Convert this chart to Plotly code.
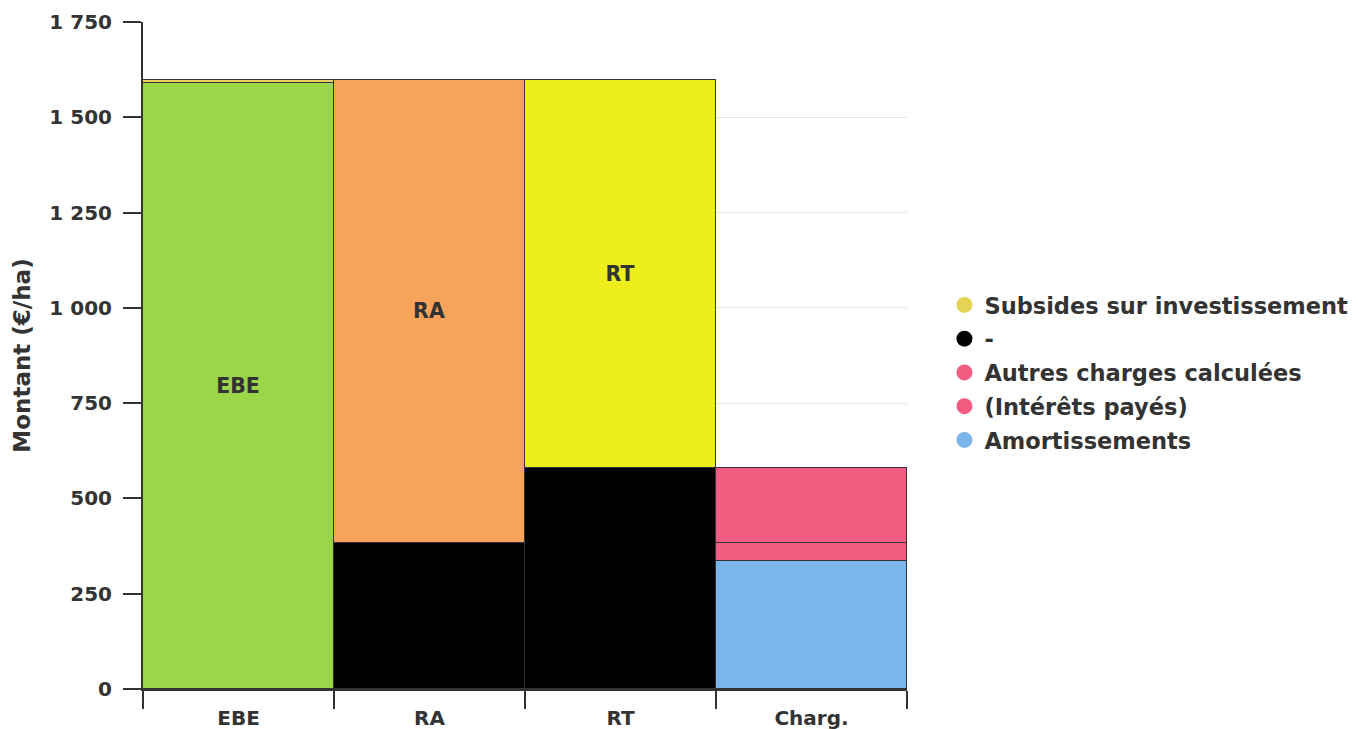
import plotly.graph_objects as go

categories = ["EBE", "RA", "RT", "Charg."]

ebe = [1590, None, None, None]
subsides = [8, None, None, None]
black_part = [None, 382, 581, None]
amortissements = [None, None, None, 337]
interets = [None, None, None, 45]
autres = [None, None, None, 199]
ra = [None, 1216, None, None]
rt = [None, None, 1017, None]

C_GREEN = "#9ad648"
C_ORANGE = "#f7a35c"
C_YELLOW = "#eeee1a"
C_SUB = "#e4d354"
C_BLACK = "#000000"
C_PINK = "#f15c80"
C_BLUE = "#7cb5ec"

FONT = "DejaVu Sans"
TXT = "#333333"

fig = go.Figure()
line = dict(color="#333333", width=1)

def bar(name, vals, color, label=None):
    if label:
        kw = dict(text=[label if v is not None else None for v in vals],
                  textposition="inside", insidetextanchor="middle",
                  textfont=dict(family=FONT, size=20.5, color=TXT, weight="bold"),
                  texttemplate="%{text}")
    else:
        kw = dict(textposition="none")
    fig.add_trace(go.Bar(x=categories, y=vals, name=name, marker=dict(color=color, line=line),
                         showlegend=False, hoverinfo="y+name", constraintext="none", **kw))

bar("EBE", ebe, C_GREEN, "EBE")
bar("-", black_part, C_BLACK)
bar("Amortissements", amortissements, C_BLUE)
bar("(Intérêts payés)", interets, C_PINK)
bar("Autres charges calculées", autres, C_PINK)
bar("RA", ra, C_ORANGE, "RA")
bar("RT", rt, C_YELLOW, "RT")
bar("Subsides sur investissement", subsides, C_SUB)

legend_items = [("Subsides sur investissement", C_SUB), ("-", C_BLACK),
                ("Autres charges calculées", C_PINK), ("(Intérêts payés)", C_PINK),
                ("Amortissements", C_BLUE)]
for i, (n, c) in enumerate(legend_items):
    fig.add_trace(go.Scatter(x=[None], y=[None], mode="markers", name=n,
                             legendgroup=f"g{i}",
                             marker=dict(symbol="circle", size=20, color=c),
                             showlegend=True, legendrank=i, hoverinfo="skip"))

fig.update_layout(
    barmode="stack", bargap=0,
    width=1366, height=729,
    margin=dict(l=135, r=467, t=14, b=48, autoexpand=False),
    paper_bgcolor="white", plot_bgcolor="white",
    separators=", ",
    font=dict(family=FONT, size=20, color=TXT, weight="bold"),
    legend=dict(x=1.049, xanchor="left", y=0.474, yanchor="middle",
                font=dict(family=FONT, size=22.5, color=TXT, weight="bold"),
                traceorder="grouped", tracegroupgap=1.5),
    xaxis=dict(type="category", tickson="boundaries", ticks="outside", ticklen=18,
               tickwidth=2, tickcolor="#333333", showline=True, linecolor="#333333",
               linewidth=2, showgrid=False, ticklabelstandoff=10, automargin=False,
               tickfont=dict(family=FONT, size=20, color=TXT, weight="bold")),
    yaxis=dict(range=[0, 1750], tick0=0, dtick=250, tickformat=",d", ticks="outside",
               ticklen=18, tickwidth=2, tickcolor="#333333", showline=True,
               linecolor="#333333", linewidth=2, gridcolor="#e6e6e6", gridwidth=1,
               zeroline=False, ticklabelstandoff=7, automargin=False,
               tickfont=dict(family=FONT, size=20, color=TXT, weight="bold"),
               title=dict(text="Montant (€/ha)", standoff=12,
                          font=dict(family=FONT, size=23, color=TXT, weight="bold"))),
)

fig.write_html("out.html")
